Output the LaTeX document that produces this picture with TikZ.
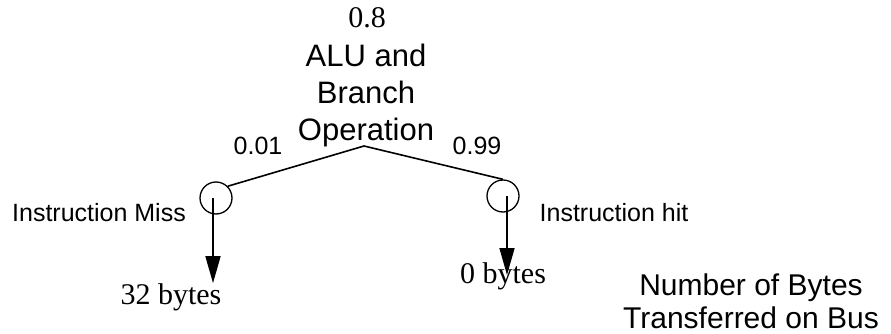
\documentclass[tikz,border=0pt]{standalone}
\usepackage{fontspec}
\setmainfont{Liberation Serif}
\setsansfont{Liberation Sans}
\usetikzlibrary{arrows.meta}
\tikzset{
  serif/.style={font=\fontsize{30}{34}\selectfont\rmfamily, inner sep=0pt},
  label/.style={font=\fontsize{25}{28}\selectfont\sffamily, inner sep=0pt},
  title/.style={font=\fontsize{31}{37}\selectfont\sffamily, inner sep=0pt, align=center},
  branch/.style={line width=1.6pt},
  event/.style={circle, draw, line width=1.3pt, minimum size=32pt, inner sep=0pt},
  flow/.style={line width=1.6pt, -{Triangle[length=27pt,width=15pt]}}
}
\begin{document}
\begin{tikzpicture}[x=1pt,y=-1pt]
  \useasboundingbox (0,0) rectangle (891,334);

  % root of the tree
  \node[serif] (p) at (367,18) {0.8};
  \node[title] (root) at (366,95) {ALU and\\Branch\\Operation};
  \coordinate (apex) at (364,146);

  % branch probabilities
  \node[label] (pm) at (258,146) {0.01};
  \node[label] (ph) at (477,146) {0.99};

  % outcome events
  \node[event] (miss) at (216,198) {};
  \node[event] (hit) at (503,196) {};
  \node[label] (missl) at (99,213) {Instruction Miss};
  \node[label] (hitl) at (614,213) {Instruction hit};

  \draw[branch] (apex) -- (miss.north east);
  \draw[branch] (apex) -- (hit.north);

  % bytes transferred per outcome
  \node[serif] (b32) at (171,297) {32 bytes};
  \node[serif] (b0) at (503,276) {0 bytes};
  \coordinate (tip0) at (507,275);

  \draw[flow] ([xshift=-3pt]miss.center) -- ([xshift=-3pt]miss.center |- b32.north);
  \draw[flow] ([xshift=4pt]hit.center) -- (tip0);

  % legend
  \node[title, font=\fontsize{30}{33}\selectfont\sffamily] (leg) at (751,301) {Number of Bytes\\Transferred on Bus};
\end{tikzpicture}
\end{document}
